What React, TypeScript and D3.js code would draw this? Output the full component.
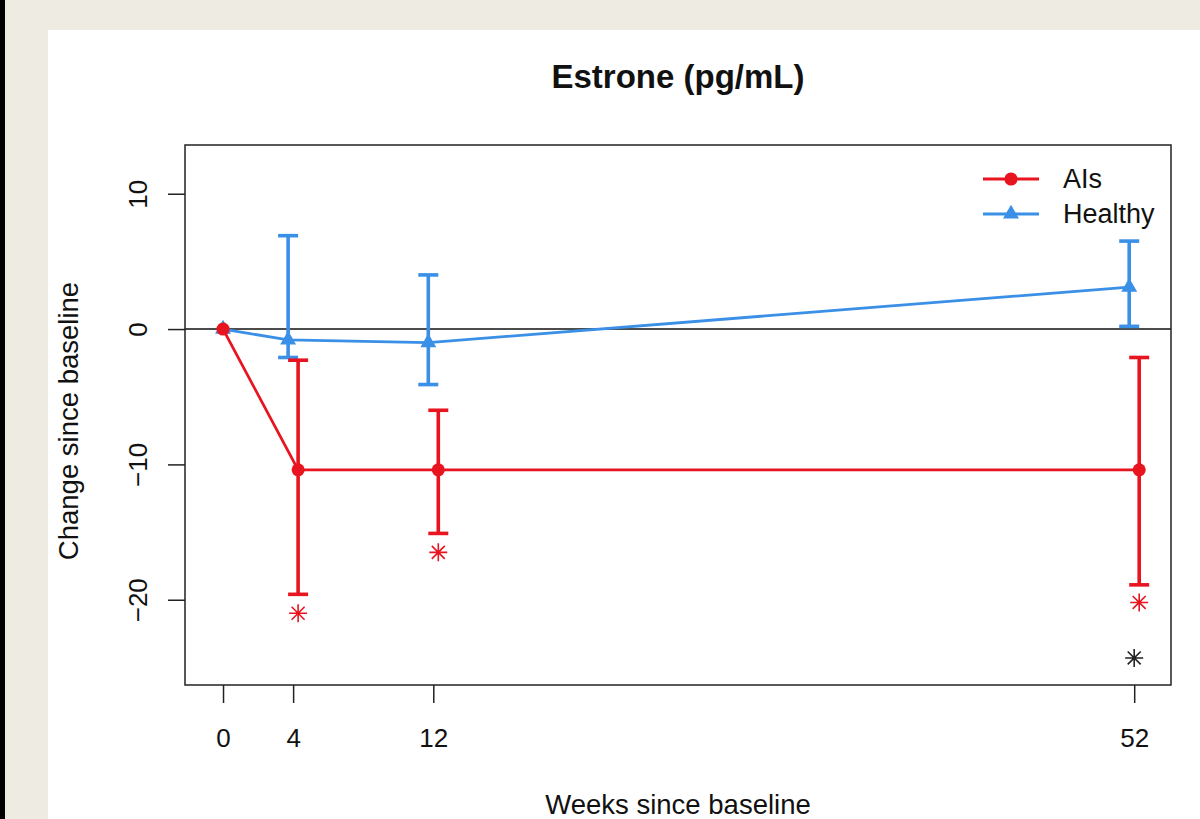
import React, { useEffect, useRef } from 'react';
import * as d3 from 'd3';

// weeks since baseline
const weeks = [0, 4, 12, 52];
const xTicks = [0, 4, 12, 52];
const yTicks = [-20, -10, 0, 10];

// AIs group: mean change and error bar ends
const aisMean = [0, -10.4, -10.4, -10.4];
const aisLower = [0, -19.6, -15.1, -18.9];
const aisUpper = [0, -2.3, -6.0, -2.1];
// significance stars for AIs (week, value)
const aisStarWeeks = [4, 12, 52];
const aisStarValues = [-21.0, -16.5, -20.2];

// Healthy group
const healthyMean = [0, -0.8, -1.0, 3.1];
const healthyLower = [0, -2.1, -4.1, 0.2];
const healthyUpper = [0, 6.9, 4.0, 6.5];

// between-group star
const groupStarWeeks = [52];
const groupStarValues = [-24.3];

const seriesNames = ['AIs', 'Healthy'];

const RED = '#e8141f';
const BLUE = '#3a8fe6';
const FONT = '"Liberation Sans", Arial, Helvetica, sans-serif';

const App = () => {
  const ref = useRef<SVGSVGElement>(null);

  useEffect(() => {
    const svg = d3.select(ref.current);
    svg.selectAll('*').remove();

    const box = { left: 185, right: 1171, top: 145, bottom: 685 };
    const x = d3.scaleLinear().domain([-2.17, 54.1]).range([box.left, box.right]);
    const y = d3.scaleLinear().domain([-26.3, 13.6]).range([box.bottom, box.top]);
    const jitter = 0.285; // R-style horizontal offset between groups

    // backgrounds
    svg.append('rect').attr('width', 1200).attr('height', 819).attr('fill', '#eeebe2');
    svg.append('rect').attr('width', 5).attr('height', 819).attr('fill', '#000');
    svg.append('rect').attr('x', 48).attr('y', 30).attr('width', 1152).attr('height', 789).attr('fill', '#fff');

    // title
    svg.append('text')
      .attr('x', (box.left + box.right) / 2)
      .attr('y', 88)
      .attr('text-anchor', 'middle')
      .attr('font-family', FONT)
      .attr('font-weight', 'bold')
      .attr('font-size', 33)
      .attr('fill', '#111')
      .text('Estrone (pg/mL)');

    // x axis
    const xa = svg.append('g')
      .attr('transform', 'translate(0,' + box.bottom + ')')
      .call(d3.axisBottom(x).tickValues(xTicks).tickSize(18).tickPadding(26).tickFormat(d3.format('d')));
    xa.select('.domain').remove();
    xa.selectAll('line').attr('stroke', '#222').attr('stroke-width', 1.5);
    xa.selectAll('text').attr('font-family', FONT).attr('font-size', 26).attr('fill', '#111');

    // y axis with rotated labels
    const ya = svg.append('g')
      .attr('transform', 'translate(' + box.left + ',0)')
      .call(d3.axisLeft(y).tickValues(yTicks).tickSize(17).tickFormat(d3.format('d')));
    ya.select('.domain').remove();
    ya.selectAll('line').attr('stroke', '#222').attr('stroke-width', 1.5);
    ya.selectAll('text')
      .attr('font-family', FONT)
      .attr('font-size', 26)
      .attr('fill', '#111')
      .attr('x', null)
      .attr('dy', null)
      .attr('text-anchor', 'middle')
      .attr('transform', 'translate(-38,0) rotate(-90)');

    // axis titles
    svg.append('text')
      .attr('x', (box.left + box.right) / 2)
      .attr('y', 814)
      .attr('text-anchor', 'middle')
      .attr('font-family', FONT)
      .attr('font-size', 27.5)
      .attr('fill', '#111')
      .text('Weeks since baseline');
    svg.append('text')
      .attr('transform', 'translate(78,421) rotate(-90)')
      .attr('text-anchor', 'middle')
      .attr('font-family', FONT)
      .attr('font-size', 27.5)
      .attr('fill', '#111')
      .text('Change since baseline');

    // zero reference line
    svg.append('line')
      .attr('x1', box.left).attr('x2', box.right)
      .attr('y1', y(0)).attr('y2', y(0))
      .attr('stroke', '#111').attr('stroke-width', 1.5);

    const drawSeries = (mean: number[], lo: number[], hi: number[], color: string, off: number, symbol: d3.SymbolType, size: number) => {
      const xs = weeks.map((w, i) => (i === 0 ? w : w + off));
      const g = svg.append('g');
      const line = d3.line<number>().x((d, i) => x(xs[i])).y(d => y(d));
      g.append('path').datum(mean).attr('d', line).attr('fill', 'none').attr('stroke', color).attr('stroke-width', 2.8);
      weeks.forEach((w, i) => {
        if (i === 0) return;
        const cx = x(xs[i]);
        g.append('line').attr('x1', cx).attr('x2', cx).attr('y1', y(lo[i])).attr('y2', y(hi[i]))
          .attr('stroke', color).attr('stroke-width', 3.6);
        [lo[i], hi[i]].forEach(v => {
          g.append('line').attr('x1', cx - 10).attr('x2', cx + 10).attr('y1', y(v)).attr('y2', y(v))
            .attr('stroke', color).attr('stroke-width', 3.6);
        });
      });
      g.selectAll('path.pt').data(mean).enter().append('path')
        .attr('class', 'pt')
        .attr('transform', (d, i) => 'translate(' + x(xs[i]) + ',' + y(d) + ')')
        .attr('d', d3.symbol().type(symbol).size(size)())
        .attr('fill', color);
    };

    drawSeries(healthyMean, healthyLower, healthyUpper, BLUE, -jitter, d3.symbolTriangle, 110);
    drawSeries(aisMean, aisLower, aisUpper, RED, jitter, d3.symbolCircle, 135);

    // asterisks (R pch 8)
    const star = (cx: number, cy: number, color: string) => {
      const r = 9;
      const k = r * 0.72;
      const p = d3.path();
      p.moveTo(cx - r, cy); p.lineTo(cx + r, cy);
      p.moveTo(cx, cy - r); p.lineTo(cx, cy + r);
      p.moveTo(cx - k, cy - k); p.lineTo(cx + k, cy + k);
      p.moveTo(cx - k, cy + k); p.lineTo(cx + k, cy - k);
      svg.append('path').attr('d', p.toString()).attr('stroke', color).attr('stroke-width', 1.6).attr('fill', 'none');
    };
    aisStarWeeks.forEach((w, i) => star(x(w + jitter), y(aisStarValues[i]), RED));
    groupStarWeeks.forEach((w, i) => star(x(w), y(groupStarValues[i]), '#222'));

    // plot frame
    svg.append('rect')
      .attr('x', box.left).attr('y', box.top)
      .attr('width', box.right - box.left).attr('height', box.bottom - box.top)
      .attr('fill', 'none').attr('stroke', '#222').attr('stroke-width', 1.5);

    // legend
    const legend = svg.append('g').attr('transform', 'translate(983,179)');
    const legendColors = [RED, BLUE];
    const legendSymbols = [d3.symbolCircle, d3.symbolTriangle];
    const legendSizes = [135, 110];
    seriesNames.forEach((name, i) => {
      const row = legend.append('g').attr('transform', 'translate(0,' + i * 35 + ')');
      row.append('line').attr('x1', 0).attr('x2', 56).attr('stroke', legendColors[i]).attr('stroke-width', 2.8);
      row.append('path').attr('transform', 'translate(28,0)')
        .attr('d', d3.symbol().type(legendSymbols[i]).size(legendSizes[i])())
        .attr('fill', legendColors[i]);
      row.append('text').attr('x', 80).attr('y', 9)
        .attr('font-family', FONT).attr('font-size', 27).attr('fill', '#111')
        .text(name);
    });
  }, []);

  return (
    <svg ref={ref} width={1200} height={819} style={{ position: 'absolute', left: 0, top: 0 }} />
  );
};

export default App;
